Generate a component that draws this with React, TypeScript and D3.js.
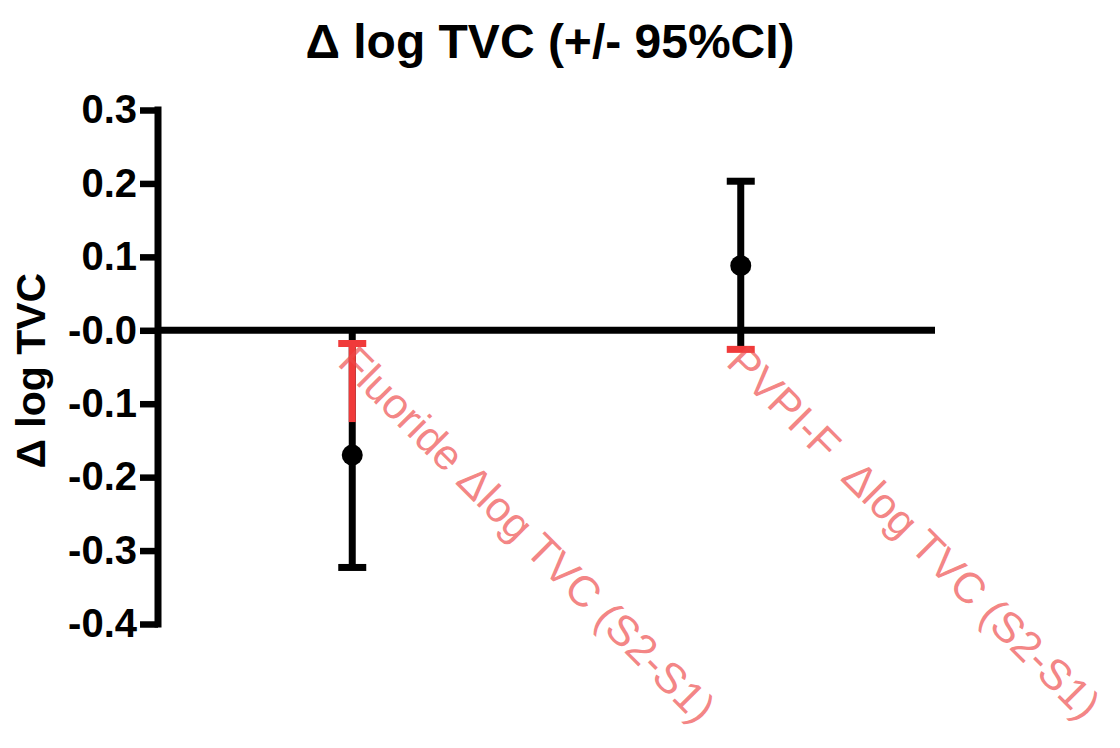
import React, { useEffect, useRef } from 'react';
import * as d3 from 'd3';

// Data
const groups = ['Fluoride', 'PVPI-F'];
const groupLabels = ['Fluoride \u0394log TVC (S2-S1)', 'PVPI-F  \u0394log TVC (S2-S1)'];
const means = [-0.17, 0.088];
const ciLow = [-0.323, -0.026];
const ciHigh = [-0.018, 0.203];
// part of each error bar that shows up red in the original
const redTop = [-0.018, null];
const redBottom = [-0.125, null];
const capHighRed = [true, false];
const capLowRed = [false, true];
const yTicks = [0.3, 0.2, 0.1, 0.0, -0.1, -0.2, -0.3, -0.4];
const yTickLabels = ['0.3', '0.2', '0.1', '-0.0', '-0.1', '-0.2', '-0.3', '-0.4'];

const FONT = "'Liberation Sans', Arial, Helvetica, sans-serif";
const RED = '#f03a3a';

const App: React.FC = () => {
  const svgRef = useRef<SVGSVGElement>(null);

  useEffect(() => {
    if (!svgRef.current) return;
    const svg = d3.select(svgRef.current);
    svg.selectAll('*').remove();

    const left = 158;
    const right = 935;
    const y = d3.scaleLinear().domain([-0.4, 0.3]).range([624, 110]);
    const x = d3.scalePoint<string>().domain(groups).range([left, right]).padding(0.5);

    // Title
    svg.append('text')
      .attr('x', 550)
      .attr('y', 58)
      .attr('text-anchor', 'middle')
      .style('font-family', FONT)
      .style('font-weight', 'bold')
      .style('font-size', '48px')
      .text('\u0394 log TVC (+/- 95%CI)');

    // Y axis title
    svg.append('text')
      .attr('transform', `translate(45, ${y(-0.055)}) rotate(-90)`)
      .attr('text-anchor', 'middle')
      .style('font-family', FONT)
      .style('font-weight', 'bold')
      .style('font-size', '41px')
      .text('\u0394 log TVC');

    // Y axis
    const axis = d3.axisLeft(y)
      .tickValues(yTicks)
      .tickSize(18)
      .tickPadding(3)
      .tickFormat((_, i) => yTickLabels[i]);

    const ax = svg.append('g')
      .attr('transform', `translate(${left},0)`)
      .call(axis);
    ax.select('.domain').remove();
    ax.append('line')
      .attr('x1', 0).attr('x2', 0)
      .attr('y1', y(0.3) - 3.5).attr('y2', y(-0.4) + 3.5)
      .attr('stroke', '#000').attr('stroke-width', 7);
    ax.selectAll('.tick line').attr('stroke', '#000').attr('stroke-width', 6.5);
    ax.selectAll('.tick text')
      .attr('fill', '#000')
      .style('font-family', FONT)
      .style('font-weight', 'bold')
      .style('font-size', '40px');

    // Zero line
    svg.append('line')
      .attr('x1', left).attr('x2', right)
      .attr('y1', y(0)).attr('y2', y(0))
      .attr('stroke', '#000').attr('stroke-width', 7);

    const capW = 28;
    groups.forEach((g, i) => {
      const cx = x(g)!;
      const top = Math.max(ciHigh[i], 0);
      const bottom = Math.min(ciLow[i], 0);
      svg.append('line')
        .attr('x1', cx).attr('x2', cx)
        .attr('y1', y(top)).attr('y2', y(bottom))
        .attr('stroke', '#000').attr('stroke-width', 7);
      const rt = redTop[i];
      const rb = redBottom[i];
      if (rt !== null && rb !== null) {
        svg.append('line')
          .attr('x1', cx).attr('x2', cx)
          .attr('y1', y(rt)).attr('y2', y(rb))
          .attr('stroke', RED).attr('stroke-width', 7);
      }
      svg.append('line')
        .attr('x1', cx - capW / 2).attr('x2', cx + capW / 2)
        .attr('y1', y(ciHigh[i])).attr('y2', y(ciHigh[i]))
        .attr('stroke', capHighRed[i] ? RED : '#000').attr('stroke-width', 7);
      svg.append('line')
        .attr('x1', cx - capW / 2).attr('x2', cx + capW / 2)
        .attr('y1', y(ciLow[i])).attr('y2', y(ciLow[i]))
        .attr('stroke', capLowRed[i] ? RED : '#000').attr('stroke-width', 7);
      svg.append('circle')
        .attr('cx', cx).attr('cy', y(means[i]))
        .attr('r', 10.5)
        .attr('fill', '#000');

      // rotated red category label
      svg.append('text')
        .attr('transform', `translate(${cx + 6}, ${y(0) + 12}) rotate(45)`)
        .attr('dominant-baseline', 'hanging')
        .attr('xml:space', 'preserve')
        .style('white-space', 'pre')
        .style('font-family', FONT)
        .style('font-size', '43px')
        .attr('fill', '#ee4848')
        .attr('fill-opacity', 0.68)
        .text(groupLabels[i]);
    });
  }, []);

  return (
    <div style={{ position: 'absolute', left: 0, top: 0 }}>
      <svg ref={svgRef} width={1120} height={748} style={{ display: 'block', background: '#fff' }} />
    </div>
  );
};

export default App;
